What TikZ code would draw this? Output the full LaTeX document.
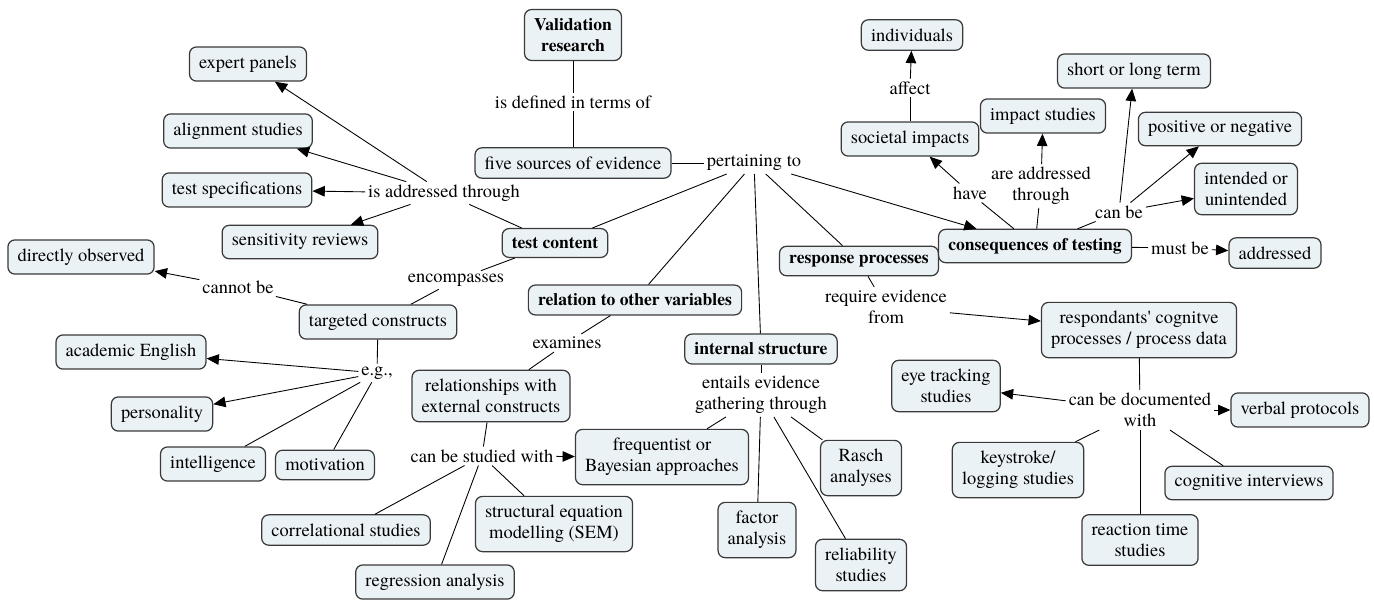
\documentclass[tikz,border=0pt]{standalone}
\usepackage{fontspec}
\setmainfont{TeX Gyre Termes}
\usetikzlibrary{arrows.meta}
\definecolor{boxfill}{HTML}{EBF2F5}
\definecolor{boxline}{HTML}{3A3A3A}

\begin{document}
\begin{tikzpicture}[x=0.02cm, y=-0.02cm, line width=0.5pt,
  >={Triangle[length=7pt,width=6pt]},
  concept/.style={draw=boxline, fill=boxfill, rounded corners=4pt, line width=0.7pt,
    align=center, inner xsep=5.5pt, inner ysep=5pt, font=\fontsize{10.5}{12}\selectfont},
  key/.style={concept, font=\fontsize{10}{12}\selectfont\bfseries},
  link/.style={inner sep=1.5pt, align=center, font=\fontsize{10.5}{12}\selectfont}]
  \useasboundingbox (0,0) rectangle (1374,600);

  % top of the map
  \node[key] (val) at (573,35) {Validation\\research};
  \node[link] (defd) at (573,102) {is defined in terms of};
  \node[concept] (five) at (573,163) {five sources of evidence};
  \node[link] (pert) at (754,163) {pertaining to};
  \node[key] (content) at (555,243) {test content};
  \node[key] (relvar) at (635,300) {relation to other variables};
  \node[key] (inner) at (761,349) {internal structure};
  \node[key] (resp) at (859,261) {response processes};
  \node[key] (conseq) at (1035,246) {consequences of testing};

  % test content
  \node[link] (addr) at (444,193) {is addressed through};
  \node[concept] (expert) at (248,64) {expert panels};
  \node[concept] (align) at (238,131) {alignment studies};
  \node[concept] (spec) at (237,190) {test specifications};
  \node[concept] (sens) at (300,242) {sensitivity reviews};
  \node[link] (encomp) at (456,280) {encompasses};
  \node[concept] (target) at (378,322) {targeted constructs};
  \node[link] (cannot) at (238,287) {cannot be};
  \node[concept] (direct) at (81,257) {directly observed};
  \node[link] (eg) at (377,373) {e.g.,};
  \node[concept] (acad) at (131,352) {academic English};
  \node[concept] (person) at (162,414) {personality};
  \node[concept] (intel) at (213,464) {intelligence};
  \node[concept] (motiv) at (325,465) {motivation};

  % relation to other variables
  \node[link] (exam) at (567,343) {examines};
  \node[concept] (extern) at (491,396) {relationships with\\external constructs};
  \node[link] (studied) at (482,456) {can be studied with};
  \node[concept] (freq) at (662,457) {frequentist or\\Bayesian approaches};
  \node[concept] (corr) at (346,530) {correlational studies};
  \node[concept] (regr) at (435,582) {regression analysis};
  \node[concept] (sem) at (554,524) {structural equation\\modelling (SEM)};

  % internal structure
  \node[link] (entails) at (761,395) {entails evidence\\gathering through};
  \node[concept] (factor) at (757,530) {factor\\analysis};
  \node[concept] (rasch) at (861,468) {Rasch\\analyses};
  \node[concept] (relia) at (861,565) {reliability\\studies};

  % response processes
  \node[link] (require) at (886,307) {require evidence\\from};
  \node[concept] (cogn) at (1139,330) {respondants\textquotesingle{} cognitve\\processes / process data};
  \node[link] (docu) at (1140,410) {can be documented\\with};
  \node[concept] (eye) at (946,386) {eye tracking\\studies};
  \node[concept] (verbal) at (1300,410) {verbal protocols};
  \node[concept] (keys) at (1018,470) {keystroke/\\logging studies};
  \node[concept] (react) at (1140,540) {reaction time\\studies};
  \node[concept] (interv) at (1249,483) {cognitive interviews};

  % consequences of testing
  \node[link] (have) at (970,193) {have};
  \node[concept] (soc) at (910,139) {societal impacts};
  \node[link] (affect) at (910,88) {affect};
  \node[concept] (indiv) at (912,35) {individuals};
  \node[link] (areaddr) at (1041,186) {are addressed\\through};
  \node[concept] (impact) at (1043,116) {impact studies};
  \node[link] (canbe) at (1119,212) {can be};
  \node[concept] (short) at (1134,71) {short or long term};
  \node[concept] (posneg) at (1220,129) {positive or negative};
  \node[concept] (intend) at (1246,189) {intended or\\unintended};
  \node[link] (must) at (1180,248) {must be};
  \node[concept] (done) at (1275,253) {addressed};

  % connectors
  \draw (val) -- (defd) -- (five);
  \draw (five) -- (pert);
  \foreach \t in {content,relvar,inner,resp}
    \draw (pert) -- (\t);
  \draw[->] (pert) -- (conseq);

  \draw (content) -- (addr);
  \foreach \t in {expert,align,spec,sens}
    \draw[->] (addr) -- (\t);
  \draw (content) -- (encomp) -- (target);
  \draw (target) -- (cannot);
  \draw[->] (cannot) -- (direct);
  \draw (target) -- (eg);
  \draw[->] (eg) -- (acad);
  \draw[->] (eg) -- (person);
  \draw (eg) -- (intel);
  \draw (eg) -- (motiv);

  \draw (relvar) -- (exam) -- (extern);
  \draw (extern) -- (studied);
  \draw[->] (studied) -- (freq);
  \foreach \t in {corr,regr,sem}
    \draw (studied) -- (\t);

  \draw (inner) -- (entails);
  \foreach \t in {freq,factor,rasch,relia}
    \draw (entails) -- (\t);

  \draw (resp) -- (require);
  \draw[->] (require) -- (cogn);
  \draw (cogn) -- (docu);
  \draw[->] (docu) -- (eye);
  \draw[->] (docu) -- (verbal);
  \foreach \t in {keys,react,interv}
    \draw (docu) -- (\t);

  \draw (conseq) -- (have);
  \draw[->] (have) -- (soc);
  \draw (soc) -- (affect);
  \draw[->] (affect) -- (indiv);
  \draw (conseq) -- (areaddr);
  \draw[->] (areaddr) -- (impact);
  \draw (conseq) -- (canbe);
  \foreach \t in {short,posneg,intend}
    \draw[->] (canbe) -- (\t);
  \draw (conseq) -- (must);
  \draw[->] (must) -- (done);
\end{tikzpicture}
\end{document}
